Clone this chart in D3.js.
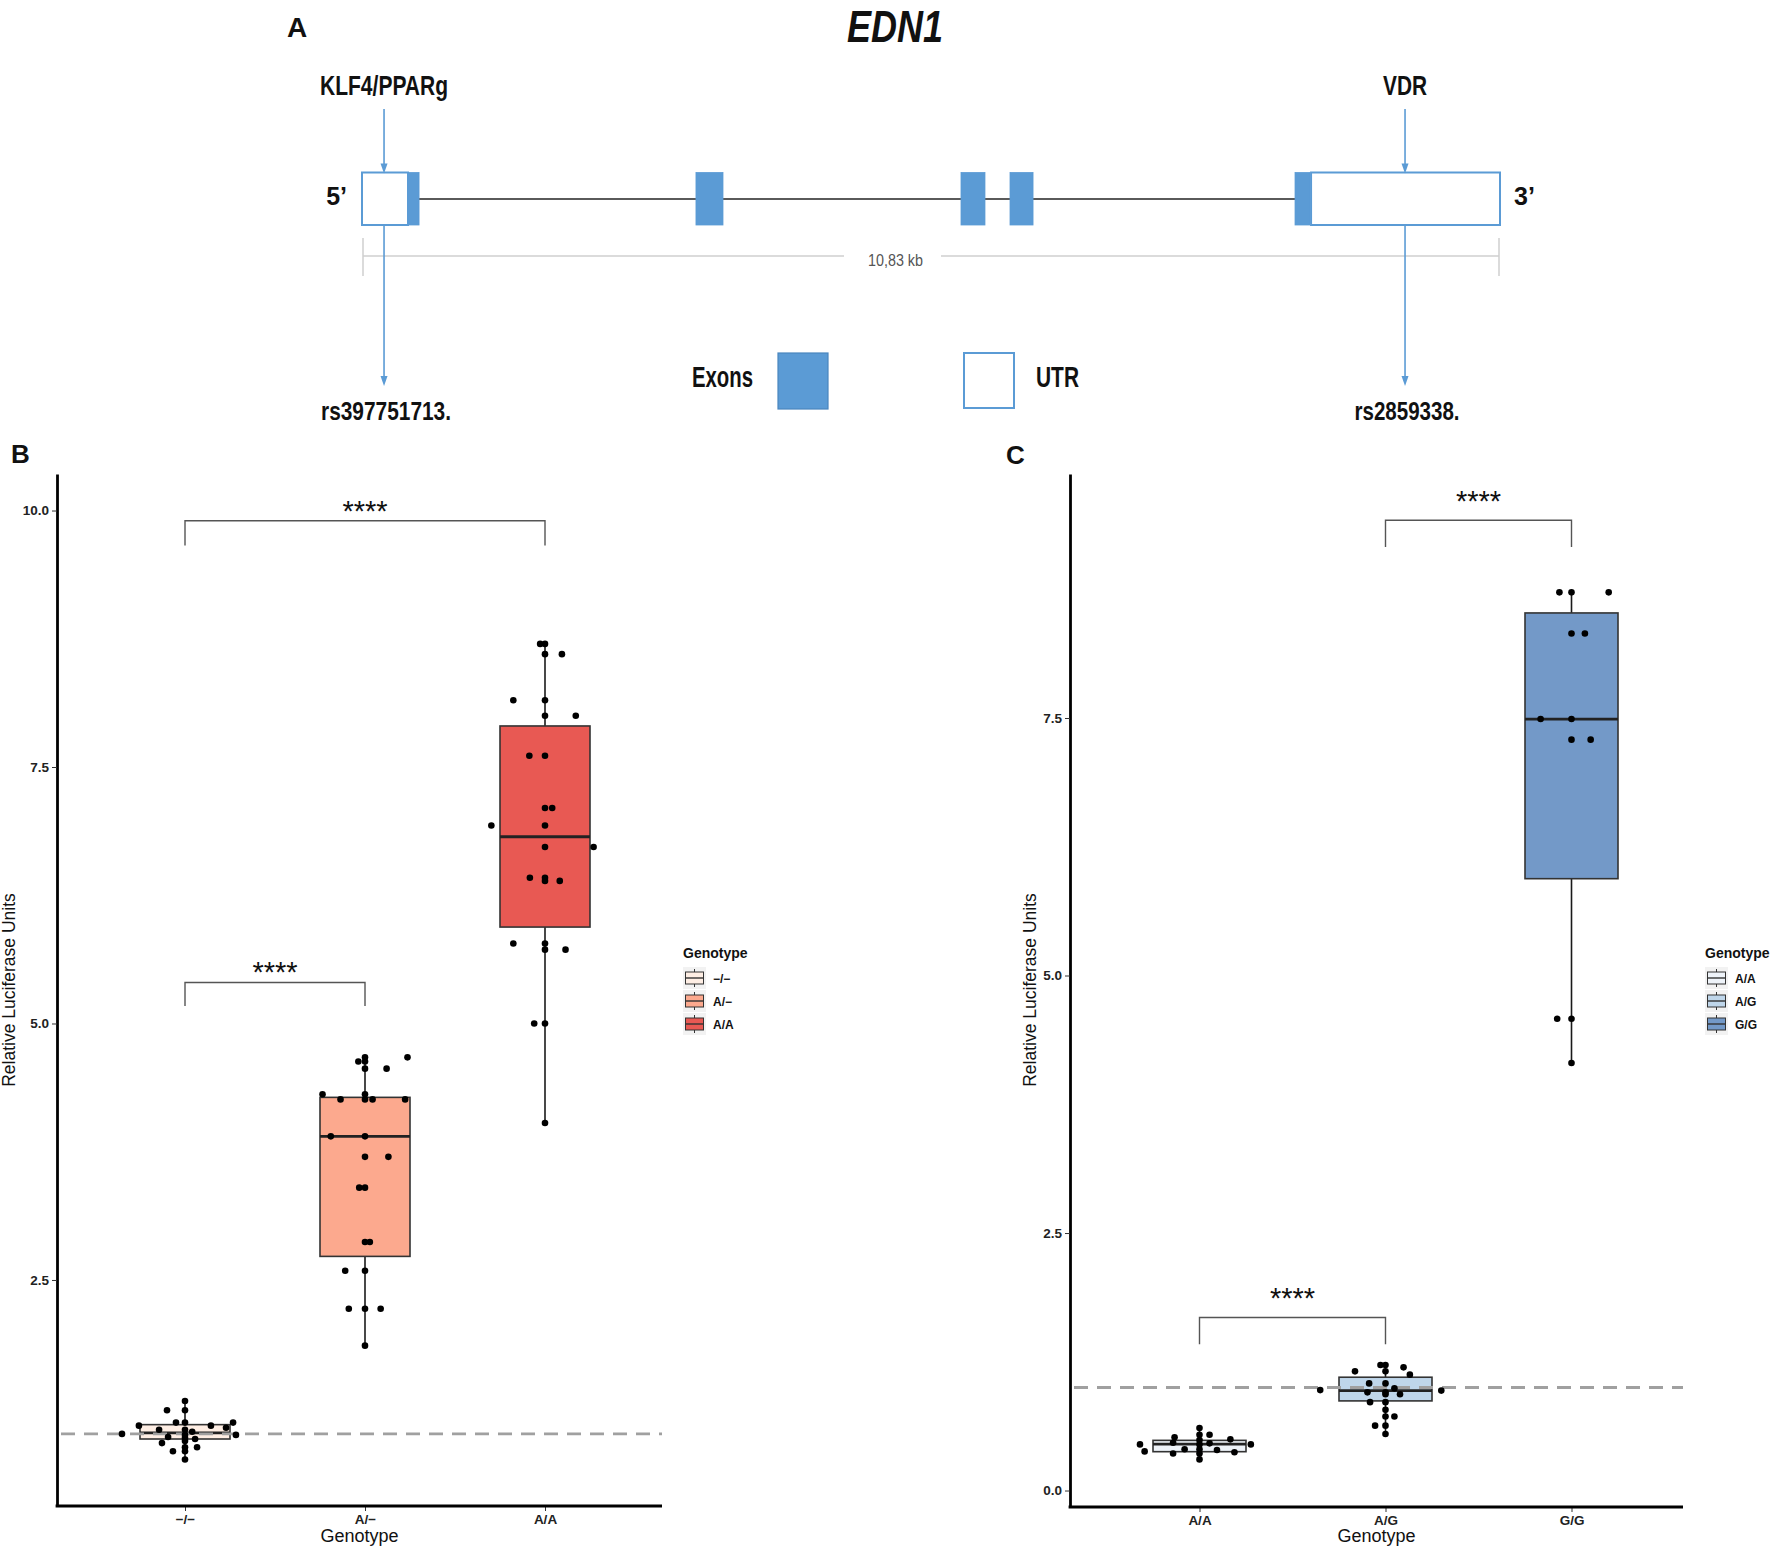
<!DOCTYPE html>
<html>
<head>
<meta charset="utf-8">
<script src="https://cdn.jsdelivr.net/npm/d3@7"></script>
<style>
  body { margin: 0; background: #fff; }
  svg { display: block; }
</style>
</head>
<body>
<svg id="chart" width="1772" height="1549"></svg>
<script>
// ================= DATA =================
// Panel A: EDN1 gene structure (kb from 5' end)
const geneName = "EDN1";
const geneLengthKb = 10.83;
const geneLengthLabel = "10,83 kb";
const featureTypes = ["utr", "exon", "exon", "exon", "exon", "exon", "utr"];
const featureStartKb = [0.00, 0.447, 3.185, 5.705, 6.171, 8.881, 9.024];
const featureEndKb   = [0.447, 0.552, 3.442, 5.933, 6.390, 9.024, 10.83];
const snpIds = ["rs397751713.", "rs2859338."];
const snpFactors = ["KLF4/PPARg", "VDR"];
const snpPosKb = [0.219, 9.927];
const legendLabelsA = ["Exons", "UTR"];

// Panel B
const catsB = ["\u2212/\u2212", "A/\u2212", "A/A"];
const loB  = [0.75, 1.86, 4.03];
const q1B  = [0.95, 2.73, 5.94];
const medB = [1.01, 3.90, 6.82];
const q3B  = [1.09, 4.28, 7.90];
const hiB  = [1.32, 4.67, 8.70];
const ptsB0 = [1.32, 1.23, 1.23, 1.11, 1.11, 1.08, 1.08, 1.06, 1.11, 1.04, 1.04, 1.00, 1.02, 0.97, 0.95, 0.99, 0.99, 0.96, 0.93, 0.91, 0.87, 0.87, 0.83, 0.83, 0.75];
const jitB0 = [0, -0.10, 0, -0.05, 0, -0.256, 0.144, 0.228, 0.267, -0.144, 0, -0.35, 0.04, -0.094, 0.056, 0.283, 0, 0, 0, -0.128, 0.067, 0, -0.067, 0, 0];
const ptsB1 = [4.67, 4.67, 4.63, 4.63, 4.56, 4.56, 4.31, 4.31, 4.26, 4.26, 4.26, 4.26, 3.90, 3.90, 3.70, 3.70, 3.40, 3.40, 2.87, 2.87, 2.59, 2.59, 2.22, 2.22, 2.22, 1.86];
const jitB1 = [0, 0.236, -0.037, 0, 0, 0.12, -0.236, 0, -0.136, 0, 0.042, 0.223, -0.19, 0, 0, 0.13, -0.032, 0, 0, 0.027, -0.11, 0, -0.09, 0, 0.087, 0];
const ptsB2 = [8.70, 8.70, 8.60, 8.60, 8.15, 8.15, 8.00, 8.00, 7.61, 7.61, 7.10, 7.10, 6.93, 6.93, 6.72, 6.72, 6.42, 6.42, 6.39, 6.39, 5.78, 5.78, 5.72, 5.72, 5.00, 5.00, 4.03];
const jitB2 = [-0.027, 0, 0, 0.094, -0.176, 0, 0, 0.171, -0.087, 0, 0, 0.04, -0.298, 0, 0, 0.27, -0.084, 0, 0, 0.082, -0.176, 0, 0, 0.114, -0.06, 0, 0];
const yTicksB = [2.5, 5.0, 7.5, 10.0];
const sigFromB = [0, 0];
const sigToB = [1, 2];
const sigYB = [5.40, 9.90];
const sigTipB = [5.17, 9.66];
const sigLabelB = ["****", "****"];

// Panel C
const catsC = ["A/A", "A/G", "G/G"];
const loC  = [0.30, 0.55, 4.15];
const q1C  = [0.377, 0.87, 5.94];
const medC = [0.45, 0.97, 7.49];
const q3C  = [0.487, 1.10, 8.52];
const hiC  = [0.61, 1.22, 8.72];
const ptsC0 = [0.607, 0.516, 0.542, 0.542, 0.497, 0.448, 0.448, 0.448, 0.458, 0.464, 0.40, 0.394, 0.40, 0.38, 0.359, 0.372, 0.359, 0.302, 0.49];
const jitC0 = [0, -0.134, 0, 0.054, 0.166, -0.32, 0.276, 0, 0.054, -0.142, -0.08, 0.094, 0, -0.295, -0.142, 0.188, 0, 0, 0];
const ptsC1 = [1.218, 1.218, 1.196, 1.157, 1.157, 1.125, 1.04, 1.04, 0.975, 0.953, 0.953, 0.992, 0.934, 0.97, 0.934, 0.858, 0.858, 0.783, 0.718, 0.718, 0.63, 0.63, 0.549];
const jitC1 = [-0.027, 0, 0.097, -0.164, 0, 0.131, -0.088, 0, -0.351, -0.097, 0, 0.048, 0.078, 0.30, 0, -0.083, 0, 0, 0, 0.048, -0.056, 0, 0];
const ptsC2 = [8.72, 8.72, 8.72, 8.32, 8.32, 7.49, 7.49, 7.29, 7.29, 4.58, 4.58, 4.15];
const jitC2 = [-0.065, 0, 0.2, 0, 0.072, -0.166, 0, 0, 0.103, -0.077, 0, 0];
const yTicksC = [0.0, 2.5, 5.0, 7.5];
const sigFromC = [0, 1];
const sigToC = [1, 2];
const sigYC = [1.68, 9.42];
const sigTipC = [1.42, 9.16];
const sigLabelC = ["****", "****"];

const refLineValue = 1.0;
const axisTitleX = "Genotype";
const axisTitleY = "Relative Luciferase Units";
const legendTitle = "Genotype";

// ================= STYLE =================
const FONT = "'Liberation Sans', Arial, Helvetica, sans-serif";
const NARROW = "'Liberation Sans Narrow', 'Arial Narrow', 'Liberation Sans', Arial, sans-serif";
const BLUE = "#5B9BD5";
const colorsB = ["#FEEEE4", "#FCA98E", "#E85953"];
const colorsC = ["#EEF3F9", "#BFD6EA", "#7399C8"];

const svg = d3.select("#chart");
svg.append("rect").attr("width", 1772).attr("height", 1549).attr("fill", "#fff");

// ================= PANEL A =================
(function drawA() {
  const g = svg.append("g");
  const x = d3.scaleLinear().domain([0, geneLengthKb]).range([361, 1500]);
  const yTop = 172.5, yBot = 225, yMid = 199;

  g.append("text").attr("x", 287).attr("y", 37).text("A")
    .attr("font-family", FONT).attr("font-weight", "bold").attr("font-size", 28).attr("fill", "#111");

  g.append("text").attr("x", 895).attr("y", 42).text(geneName)
    .attr("text-anchor", "middle").attr("font-family", FONT).attr("font-weight", "bold")
    .attr("font-style", "italic").attr("font-size", 45).attr("fill", "#111")
    .attr("textLength", 96).attr("lengthAdjust", "spacingAndGlyphs");

  // intron backbone
  g.append("line")
    .attr("x1", x(featureEndKb[0])).attr("x2", x(featureStartKb[featureStartKb.length - 1]))
    .attr("y1", yMid).attr("y2", yMid).attr("stroke", "#5a5a5a").attr("stroke-width", 1.8);

  const feats = featureTypes.map((t, i) => ({ t, s: featureStartKb[i], e: featureEndKb[i] }));
  g.selectAll("rect.feat").data(feats).join("rect").attr("class", "feat")
    .attr("x", d => x(d.s) + (d.t === "utr" ? 1 : 0))
    .attr("y", yTop)
    .attr("width", d => x(d.e) - x(d.s) - (d.t === "utr" ? 1 : 0))
    .attr("height", yBot - yTop)
    .attr("fill", d => d.t === "exon" ? BLUE : "#fff")
    .attr("stroke", BLUE)
    .attr("stroke-width", d => d.t === "exon" ? 0.8 : 2);

  // 5' and 3'
  g.append("text").attr("x", x(0) - 14).attr("y", 205).text("5\u2019")
    .attr("text-anchor", "end").attr("font-family", NARROW).attr("font-weight", "bold")
    .attr("font-size", 25).attr("fill", "#111");
  g.append("text").attr("x", x(geneLengthKb) + 14).attr("y", 205).text("3\u2019")
    .attr("font-family", NARROW).attr("font-weight", "bold").attr("font-size", 25).attr("fill", "#111");

  // scale bar
  const sbY = 256, sbL = x(0) + 2, sbR = x(geneLengthKb) - 1;
  const sb = g.append("g").attr("stroke", "#cfcfcf").attr("stroke-width", 1.5);
  sb.append("line").attr("x1", sbL).attr("x2", 844).attr("y1", sbY).attr("y2", sbY);
  sb.append("line").attr("x1", 941).attr("x2", sbR).attr("y1", sbY).attr("y2", sbY);
  sb.append("line").attr("x1", sbL).attr("x2", sbL).attr("y1", 238).attr("y2", 276);
  sb.append("line").attr("x1", sbR).attr("x2", sbR).attr("y1", 238).attr("y2", 276);
  g.append("text").attr("x", 895.5).attr("y", 266).text(geneLengthLabel)
    .attr("text-anchor", "middle").attr("font-family", NARROW).attr("font-size", 16)
    .attr("fill", "#555").attr("textLength", 55).attr("lengthAdjust", "spacingAndGlyphs");

  // SNP arrows and labels
  const factorW = [128, 44], snpW = [130, 105];
  snpPosKb.forEach((p, i) => {
    const ax = x(p);
    g.append("line").attr("x1", ax).attr("x2", ax).attr("y1", 109).attr("y2", yTop - 6)
      .attr("stroke", BLUE).attr("stroke-width", 1.6);
    g.append("path").attr("d", `M${ax - 3.5},${yTop - 9}L${ax + 3.5},${yTop - 9}L${ax},${yTop + 1}Z`).attr("fill", BLUE);
    g.append("line").attr("x1", ax).attr("x2", ax).attr("y1", yBot).attr("y2", 378)
      .attr("stroke", BLUE).attr("stroke-width", 1.6);
    g.append("path").attr("d", `M${ax - 3.5},376L${ax + 3.5},376L${ax},386Z`).attr("fill", BLUE);
    g.append("text").attr("x", ax).attr("y", 95).text(snpFactors[i])
      .attr("text-anchor", "middle").attr("font-family", NARROW).attr("font-weight", "bold")
      .attr("font-size", 28).attr("fill", "#111")
      .attr("textLength", factorW[i]).attr("lengthAdjust", "spacingAndGlyphs");
    g.append("text").attr("x", ax + 2).attr("y", 420).text(snpIds[i])
      .attr("text-anchor", "middle").attr("font-family", NARROW).attr("font-weight", "bold")
      .attr("font-size", 25).attr("fill", "#111")
      .attr("textLength", snpW[i]).attr("lengthAdjust", "spacingAndGlyphs");
  });

  // legend
  g.append("text").attr("x", 753).attr("y", 387).text(legendLabelsA[0])
    .attr("text-anchor", "end").attr("font-family", NARROW).attr("font-weight", "bold")
    .attr("font-size", 30).attr("fill", "#111").attr("textLength", 61).attr("lengthAdjust", "spacingAndGlyphs");
  g.append("rect").attr("x", 778).attr("y", 353).attr("width", 50).attr("height", 56)
    .attr("fill", BLUE).attr("stroke", "#4a86bf").attr("stroke-width", 1.2);
  g.append("rect").attr("x", 964).attr("y", 353).attr("width", 50).attr("height", 55)
    .attr("fill", "#fff").attr("stroke", BLUE).attr("stroke-width", 2);
  g.append("text").attr("x", 1036).attr("y", 387).text(legendLabelsA[1])
    .attr("font-family", NARROW).attr("font-weight", "bold")
    .attr("font-size", 30).attr("fill", "#111").attr("textLength", 43).attr("lengthAdjust", "spacingAndGlyphs");
})();

// ================= PANELS B & C =================
function drawPanel(p) {
  const g = svg.append("g");
  const y = d3.scaleLinear().domain(p.yDomain).range([p.yBottom, p.yTop]);
  const x = d3.scalePoint().domain(p.cats).range(p.xRange);
  const step = x.step();
  const bw = step * 0.5;

  // panel letter
  g.append("text").attr("x", p.letterX).attr("y", p.letterY).text(p.letter)
    .attr("font-family", FONT).attr("font-weight", "bold").attr("font-size", 26).attr("fill", "#111");

  // boxes
  const boxes = p.cats.map((c, i) => ({ c, i, lo: p.lo[i], q1: p.q1[i], med: p.med[i], q3: p.q3[i], hi: p.hi[i], col: p.colors[i] }));
  const bg = g.selectAll("g.box").data(boxes).join("g").attr("class", "box");
  bg.append("line").attr("x1", d => x(d.c)).attr("x2", d => x(d.c))
    .attr("y1", d => y(d.hi)).attr("y2", d => y(d.q3)).attr("stroke", "#1a1a1a").attr("stroke-width", 1.6);
  bg.append("line").attr("x1", d => x(d.c)).attr("x2", d => x(d.c))
    .attr("y1", d => y(d.q1)).attr("y2", d => y(d.lo)).attr("stroke", "#1a1a1a").attr("stroke-width", 1.6);
  bg.append("rect").attr("x", d => x(d.c) - bw / 2).attr("y", d => y(d.q3))
    .attr("width", bw).attr("height", d => y(d.q1) - y(d.q3))
    .attr("fill", d => d.col).attr("stroke", "#333").attr("stroke-width", 1.6);
  bg.append("line").attr("x1", d => x(d.c) - bw / 2).attr("x2", d => x(d.c) + bw / 2)
    .attr("y1", d => y(d.med)).attr("y2", d => y(d.med)).attr("stroke", "#222").attr("stroke-width", 2.8);

  // reference dashed line
  g.append("line").attr("x1", p.xAxisStart + 4).attr("x2", p.xAxisEnd)
    .attr("y1", y(refLineValue)).attr("y2", y(refLineValue))
    .attr("stroke", "#a0a0a0").attr("stroke-width", 2.8).attr("stroke-dasharray", "14,9");

  // points
  const pts = [];
  p.cats.forEach((c, i) => p.pts[i].forEach((v, k) => pts.push({ c, v, j: p.jit[i][k] })));
  g.selectAll("circle.pt").data(pts).join("circle").attr("class", "pt")
    .attr("cx", d => x(d.c) + d.j * step).attr("cy", d => y(d.v)).attr("r", 3.3).attr("fill", "#000");

  // significance brackets
  p.sigFrom.forEach((f, k) => {
    const x1 = x(p.cats[f]), x2 = x(p.cats[p.sigTo[k]]);
    g.append("path")
      .attr("d", `M${x1},${y(p.sigTip[k])}V${y(p.sigY[k])}H${x2}V${y(p.sigTip[k])}`)
      .attr("fill", "none").attr("stroke", "#555").attr("stroke-width", 1.4);
    g.append("text").attr("x", (x1 + x2) / 2).attr("y", y(p.sigY[k]) + p.starDy).text(p.sigLabel[k])
      .attr("text-anchor", "middle").attr("font-family", FONT).attr("font-size", 29).attr("fill", "#111");
  });

  // axes
  const yAx = g.append("g").attr("transform", `translate(${p.xAxisStart},0)`)
    .call(d3.axisLeft(y).tickValues(p.yTicks).tickFormat(d3.format(".1f")).tickSize(5).tickSizeOuter(0).tickPadding(3));
  yAx.select(".domain").attr("stroke", "#000").attr("stroke-width", 2.8);
  yAx.selectAll(".tick line").attr("stroke", "#333").attr("stroke-width", 1);
  yAx.selectAll(".tick text").attr("font-family", FONT).attr("font-size", 13.5)
    .attr("font-weight", "bold").attr("fill", "#222");

  const xAx = g.append("g").attr("transform", `translate(0,${p.yBottom})`)
    .call(d3.axisBottom(x).tickSize(5).tickSizeOuter(0).tickPadding(3));
  xAx.select(".domain").remove();
  xAx.selectAll(".tick line").attr("stroke", "#333").attr("stroke-width", 1);
  xAx.selectAll(".tick text").attr("font-family", FONT).attr("font-size", 13.5)
    .attr("font-weight", "bold").attr("fill", "#222");
  g.append("line").attr("x1", p.xAxisStart - 1.4).attr("x2", p.xAxisEnd)
    .attr("y1", p.yBottom).attr("y2", p.yBottom).attr("stroke", "#000").attr("stroke-width", 2.8);

  // titles
  g.append("text").attr("x", (p.xAxisStart + p.xAxisEnd) / 2).attr("y", 1542).text(axisTitleX)
    .attr("text-anchor", "middle").attr("font-family", FONT).attr("font-size", 18).attr("fill", "#111");
  g.append("text").attr("transform", `translate(${p.yTitleX},990) rotate(-90)`).text(axisTitleY)
    .attr("text-anchor", "middle").attr("font-family", FONT).attr("font-size", 17.5).attr("fill", "#111");

  // legend
  const lg = g.append("g").attr("transform", `translate(${p.legendX},0)`);
  lg.append("text").attr("x", 0).attr("y", 958).text(legendTitle)
    .attr("font-family", FONT).attr("font-weight", "bold").attr("font-size", 14).attr("fill", "#111");
  const keyCenters = [978, 1001, 1024];
  const keys = lg.selectAll("g.key").data(boxes).join("g").attr("class", "key")
    .attr("transform", (d, i) => `translate(0,${keyCenters[i]})`);
  keys.append("rect").attr("x", 0).attr("y", -11).attr("width", 23).attr("height", 22).attr("fill", "#f2f2f2");
  keys.append("line").attr("x1", 11.5).attr("x2", 11.5).attr("y1", -9).attr("y2", 9).attr("stroke", "#333").attr("stroke-width", 1);
  keys.append("rect").attr("x", 2.5).attr("y", -6).attr("width", 18).attr("height", 12)
    .attr("fill", d => d.col).attr("stroke", "#333").attr("stroke-width", 1);
  keys.append("line").attr("x1", 2.5).attr("x2", 20.5).attr("y1", 0).attr("y2", 0).attr("stroke", "#333").attr("stroke-width", 1.4);
  keys.append("text").attr("x", 30).attr("y", 4.5).text(d => d.c)
    .attr("font-family", FONT).attr("font-weight", "bold").attr("font-size", 12).attr("fill", "#111");
}

drawPanel({
  letter: "B", letterX: 11, letterY: 463,
  cats: catsB, colors: colorsB,
  lo: loB, q1: q1B, med: medB, q3: q3B, hi: hiB,
  pts: [ptsB0, ptsB1, ptsB2], jit: [jitB0, jitB1, jitB2],
  yDomain: [0.297, 10.356], yBottom: 1506, yTop: 474,
  xRange: [185, 545], xAxisStart: 57, xAxisEnd: 662,
  yTicks: yTicksB,
  sigFrom: sigFromB, sigTo: sigToB, sigY: sigYB, sigTip: sigTipB, sigLabel: sigLabelB, starDy: 0,
  yTitleX: 15, legendX: 683
});

drawPanel({
  letter: "C", letterX: 1006, letterY: 464,
  cats: catsC, colors: colorsC,
  lo: loC, q1: q1C, med: medC, q3: q3C, hi: hiC,
  pts: [ptsC0, ptsC1, ptsC2], jit: [jitC0, jitC1, jitC2],
  yDomain: [-0.160, 9.869], yBottom: 1507, yTop: 474,
  xRange: [1199.5, 1571.5], xAxisStart: 1070, xAxisEnd: 1683,
  yTicks: yTicksC,
  sigFrom: sigFromC, sigTo: sigToC, sigY: sigYC, sigTip: sigTipC, sigLabel: sigLabelC, starDy: -9,
  yTitleX: 1036, legendX: 1705
});
</script>
</body>
</html>
